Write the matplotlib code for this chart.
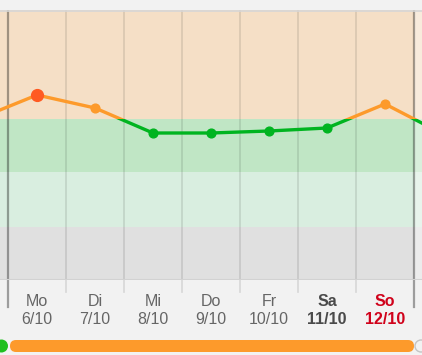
import matplotlib.pyplot as plt
import matplotlib.transforms as mtransforms
from matplotlib.patches import Rectangle, FancyBboxPatch, Circle

plt.rcParams['font.family'] = ['Liberation Sans', 'DejaVu Sans']

# data
days = ["Mo", "Di", "Mi", "Do", "Fr", "Sa", "So"]
dates = ["6/10", "7/10", "8/10", "9/10", "10/10", "11/10", "12/10"]
values = [18.5, 17.2, 14.7, 14.7, 14.9, 15.2, 17.6]
prev_value = 16.15   # day before, only the line stub on the left is visible
next_value = 14.6    # day after, stub on the right
band_edges = [0, 5.3, 10.8, 16.1, 27.0]
band_colors = ["#e0e0e0", "#d9eee0", "#c0e6c5", "#f5dfc6"]
threshold = 16.1
label_colors = ["#666666"] * 5 + ["#4a4a4a", "#d0021b"]
label_weights = ["normal"] * 5 + ["bold", "bold"]

ORANGE = "#fd9a2b"
GREEN = "#00b420"
PEAK = "#ff5a22"

W, H = 422, 355
fig = plt.figure(figsize=(W / 100, H / 100), dpi=100, facecolor="#f2f2f2")
ax = fig.add_axes([0, 75 / H, 1, 270 / H])
ax.set_xlim(-0.638, 6.638)
ax.set_ylim(band_edges[0], band_edges[-1])
for s in ax.spines.values():
    s.set_visible(False)
ax.set_xticks([])
ax.set_yticks([])

# background bands
for lo, hi, c in zip(band_edges[:-1], band_edges[1:], band_colors):
    ax.axhspan(lo, hi, color=c, lw=0, zorder=0)
# faded area after the last day
ax.axvspan(6.5, 7.5, color="white", alpha=0.4, lw=0, zorder=1)

# day separators
n = len(days)
for k in range(n + 1):
    b = k - 0.5
    outer = k in (0, n)
    ax.plot([b, b], [-2.7 if outer else -1.2, band_edges[-1]],
            color="black", alpha=0.35 if outer else 0.1,
            lw=1.6 if outer else 1.3, clip_on=False, zorder=2)
ax.axhline(0, color="#d2d2d2", lw=1.5, zorder=2)

# line, coloured by threshold
xs = list(range(-1, n + 1))
ys = [prev_value] + values + [next_value]
top_clip = Rectangle((-2, threshold), 12, 50, transform=ax.transData)
bot_clip = Rectangle((-2, -50), 12, threshold + 50, transform=ax.transData)
l1, = ax.plot(xs, ys, color=ORANGE, lw=2.4, zorder=3, solid_capstyle="butt")
l1.set_clip_path(top_clip)
l2, = ax.plot(xs, ys, color=GREEN, lw=2.4, zorder=3, solid_capstyle="butt")
l2.set_clip_path(bot_clip)

peak = values.index(max(values))
for i, v in enumerate(values):
    if i == peak:
        ax.plot(i, v, "o", color=PEAK, ms=8.5, zorder=4)
    else:
        ax.plot(i, v, "o", color=ORANGE if v > threshold else GREEN,
                ms=6.3, zorder=4)

# overlay in pixel units for the chrome around the chart
ov = fig.add_axes([0, 0, 1, 1], zorder=5)
ov.set_xlim(0, W)
ov.set_ylim(H, 0)
ov.axis("off")
ov.patch.set_visible(False)
ov.add_patch(Rectangle((0, 0), W, 10, fc="#f2f2f2", lw=0))
ov.plot([0, W], [10.5, 10.5], color="#d6d6d6", lw=1.2)

trans = mtransforms.blended_transform_factory(ax.transData, ov.transData)
for i in range(n):
    ov.text(i, 301, days[i], transform=trans, ha="center", va="center",
            fontsize=11.5, color=label_colors[i], weight=label_weights[i])
    ov.text(i, 320, dates[i], transform=trans, ha="center", va="center",
            fontsize=11.5, color=label_colors[i], weight=label_weights[i])

# slider at the bottom
ov.add_patch(FancyBboxPatch((10, 340), 404, 12,
                            boxstyle="round,pad=0,rounding_size=6",
                            fc=ORANGE, lw=0))
ov.add_patch(Circle((1.5, 346), 6.5, fc="#1fbf1f", lw=0))
ov.add_patch(Circle((421, 346), 6, fill=False, ec="#c4c4c4", lw=1))

fig.savefig("out.png", dpi=100, facecolor=fig.get_facecolor())
